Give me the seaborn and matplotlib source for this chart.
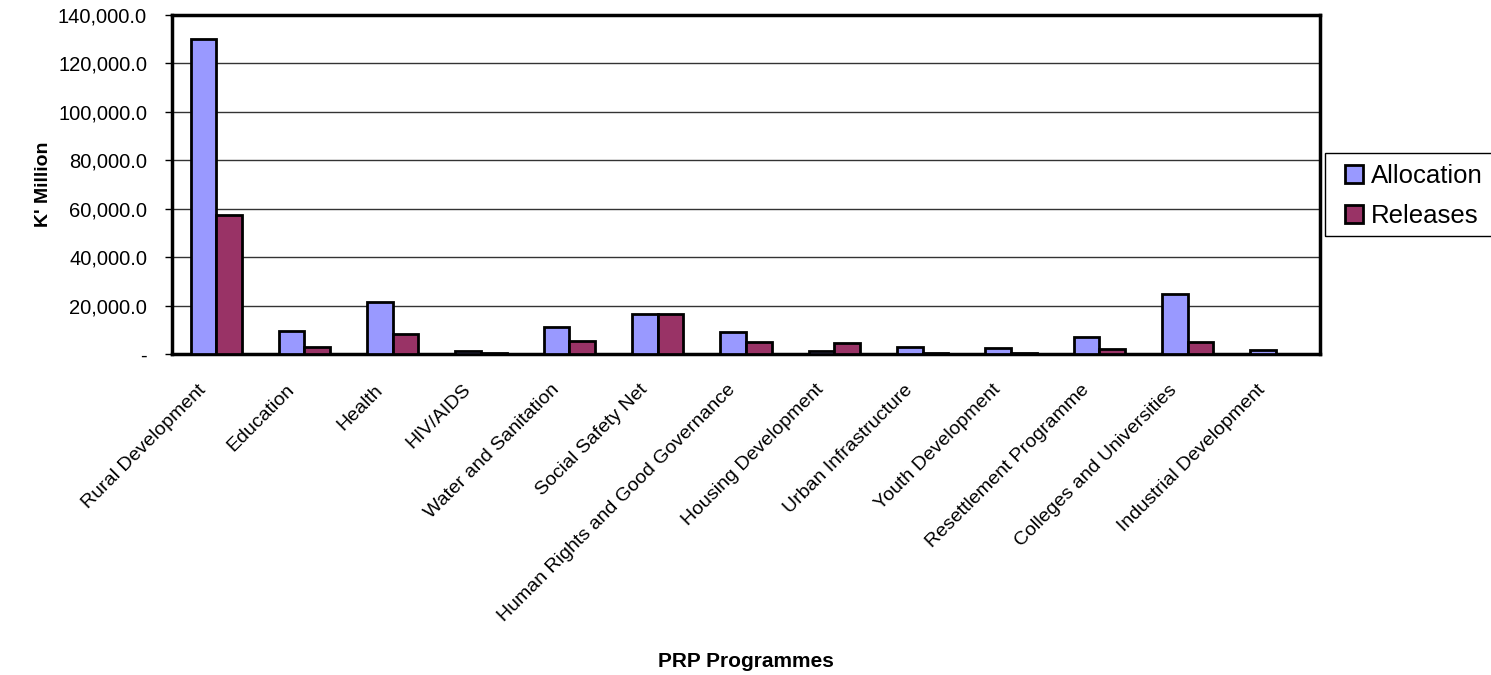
import matplotlib.pyplot as plt
import matplotlib.transforms as mtransforms
from matplotlib.patches import Rectangle
import seaborn as sns
import numpy as np
import pandas as pd
from matplotlib.ticker import FuncFormatter, FixedLocator

programmes = ['Rural Development', 'Education', 'Health', 'HIV/AIDS',
              'Water and Sanitation', 'Social Safety Net',
              'Human Rights and Good Governance', 'Housing Development',
              'Urban Infrastructure', 'Youth Development',
              'Resettlement Programme', 'Colleges and Universities',
              'Industrial Development']
allocation = [130000, 9700, 21400, 1100, 11000, 16700, 9000,
              1250, 2800, 2600, 7200, 24700, 1800]
releases = [57500, 3000, 8400, 600, 5400, 16700, 4800,
            4550, 400, 350, 2200, 5100, 100]

df = pd.DataFrame({
    'Programme': programmes * 2,
    'Value': allocation + releases,
    'Series': ['Allocation'] * len(programmes) + ['Releases'] * len(programmes),
})

sns.set_style('white')
plt.rcParams['font.family'] = ['Liberation Sans', 'DejaVu Sans']
plt.rcParams['text.color'] = 'black'
plt.rcParams['xtick.color'] = 'black'
plt.rcParams['ytick.color'] = 'black'
plt.rcParams['axes.labelcolor'] = 'black'

W, H = 1491, 675
fig = plt.figure(figsize=(W / 100, H / 100), dpi=100)
ax = fig.add_axes([172 / W, 1 - 354 / H, 1148 / W, 339 / H])

sns.barplot(data=df, x='Programme', y='Value', hue='Series',
            palette={'Allocation': '#9999FF', 'Releases': '#993366'},
            width=0.58, edgecolor='black', linewidth=2, saturation=1,
            ax=ax, zorder=3)

ax.set_xlim(-0.5, len(programmes) - 0.5)
ax.set_ylim(0, 140000)
ax.set_yticks(np.arange(0, 140001, 20000))
ax.yaxis.set_major_formatter(FuncFormatter(lambda v, p: '-' if v == 0 else f'{v:,.1f}'))
ax.grid(axis='y', color='#333333', linewidth=1, zorder=0)
ax.grid(axis='x', visible=False)

ax.set_xticks(range(len(programmes)))
ax.set_xticklabels(programmes, rotation=45, ha='right', va='center',
                   rotation_mode='anchor', fontsize=14)
ax.tick_params(axis='x', which='major', length=0, pad=24)
shift = mtransforms.ScaledTranslation(-0.13, 0, fig.dpi_scale_trans)
for lbl in ax.get_xticklabels():
    lbl.set_transform(lbl.get_transform() + shift)
ax.xaxis.set_minor_locator(FixedLocator(np.arange(-0.5, len(programmes), 1)))
ax.tick_params(axis='x', which='minor', length=6, width=1, color='black', direction='out')
ax.tick_params(axis='y', length=5, width=1, color='black', direction='out',
               labelsize=14.5, left=True, pad=13)

for s in ax.spines.values():
    s.set_color('black')
    s.set_linewidth(2.5)

ax.set_ylabel("K' Million", fontsize=14, fontweight='bold', labelpad=4)
ax.set_xlabel('PRP Programmes', fontsize=15, fontweight='bold')
ax.xaxis.set_label_coords(0.5, -0.88)

# legend frame runs off the right edge like the original
fig.patches.append(Rectangle((1325 / W, 1 - 236 / H), 175 / W, 83 / H,
                             transform=fig.transFigure, fill=False,
                             edgecolor='black', linewidth=1))
leg = ax.legend(loc='upper left', bbox_to_anchor=(1345 / W, 1 - 164 / H),
                bbox_transform=fig.transFigure, fontsize=18.5, frameon=False,
                handlelength=0.7, handleheight=0.7, handletextpad=0.3,
                borderpad=0, labelspacing=0.62, borderaxespad=0)
for h in leg.legend_handles:
    h.set_edgecolor('black')
    h.set_linewidth(2)

fig.savefig('out.png', dpi=100)
